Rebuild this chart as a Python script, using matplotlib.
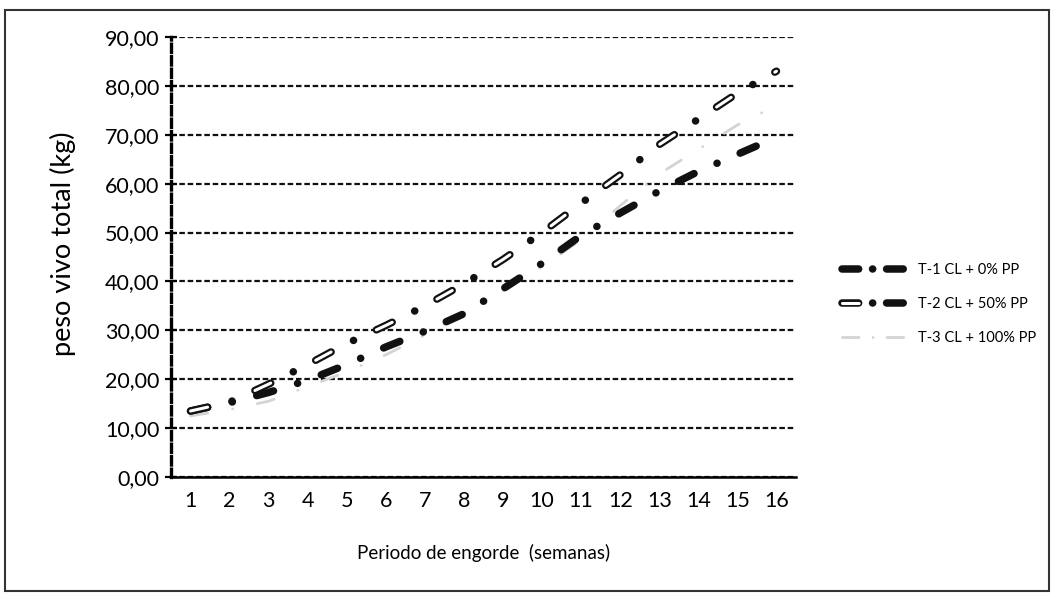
import numpy as np
import matplotlib
matplotlib.use("Agg")
import matplotlib.pyplot as plt
from matplotlib.lines import Line2D
from matplotlib.patches import Rectangle
from matplotlib.legend_handler import HandlerTuple
from matplotlib.ticker import FuncFormatter

plt.rcParams['font.family'] = ['Lato', 'DejaVu Sans']
plt.rcParams['lines.scale_dashes'] = False

# weeks of fattening and total live weight (kg) per treatment
weeks = np.arange(1, 17)
t1 = [13.5, 15.2, 17.3, 19.8, 23.0, 26.6, 29.8, 33.4, 38.5, 43.7, 49.4, 54.0, 58.5, 62.5, 66.0, 69.5]
t2 = [13.5, 15.3, 19.0, 23.0, 27.3, 31.0, 35.0, 39.5, 44.5, 50.0, 56.0, 61.8, 68.0, 73.2, 78.5, 83.0]
t3 = [12.5, 13.8, 15.5, 18.5, 21.5, 25.0, 29.0, 33.5, 38.0, 43.0, 48.5, 55.5, 62.0, 67.0, 72.0, 76.0]
labels = ['T-1 CL + 0% PP', 'T-2 CL + 50% PP', 'T-3 CL + 100% PP']

W, H = 1054, 602
fig = plt.figure(figsize=(W / 100, H / 100), dpi=100)
ax = fig.add_axes([171 / W, 1 - 477 / H, 625 / W, 440 / H])

dash_dot = (0, (12.6, 18.1, 0.1, 18.1))
dash_only = (0, (12.6, 36.3))

ax.plot(weeks, t3, color='#d4d4d4', lw=2, linestyle=dash_dot,
        dash_capstyle='round', zorder=3)
ax.plot(weeks, t1, color='#111111', lw=5.4, linestyle=dash_dot,
        dash_capstyle='round', zorder=4)
ax.plot(weeks, t2, color='#111111', lw=5.4, linestyle=dash_dot,
        dash_capstyle='round', zorder=5)
ax.plot(weeks, t2, color='white', lw=2.2, linestyle=dash_only,
        dash_capstyle='round', zorder=6)

ax.set_xlim(0.5, 16.5)
ax.set_ylim(0, 90)
ax.set_xticks(weeks)
ax.set_yticks(np.arange(0, 91, 10))
ax.yaxis.set_major_formatter(FuncFormatter(lambda v, p: f"{v:.2f}".replace('.', ',')))

ax.yaxis.grid(True, color='#111111', lw=1.6, linestyle=(0, (4, 2)))
ax.set_axisbelow(True)

for s in ['top', 'right']:
    ax.spines[s].set_visible(False)
ax.spines['left'].set_linestyle((0, (6, 3)))
ax.spines['left'].set_linewidth(2.4)
ax.spines['bottom'].set_linewidth(1.8)

ax.tick_params(axis='y', direction='inout', length=9, width=1.6, labelsize=15.5, pad=4)
ax.tick_params(axis='x', length=0, labelsize=15.5, pad=10)

ax.set_xlabel('Periodo de engorde  (semanas)', fontsize=13.5, labelpad=24)
fig.text(63 / W, 1 - 244 / H, 'peso vivo total (kg)', rotation=90,
         fontsize=19.5, ha='center', va='center')

# legend handles: dash, dot, dash like the original sample
leg_pat = (0, (12, 10, 0.1, 10, 12, 80))
h1 = Line2D([], [], color='#111111', lw=5.4, linestyle=leg_pat, dash_capstyle='round')
h2a = Line2D([], [], color='#111111', lw=5.4, linestyle=leg_pat, dash_capstyle='round')
h2b = Line2D([], [], color='white', lw=2.2, linestyle=(0, (12, 200)),
             dash_capstyle='round')
h3 = Line2D([], [], color='#d4d4d4', lw=2, linestyle=leg_pat, dash_capstyle='round')
fig.legend([h1, (h2a, h2b), h3], labels, loc='center left',
           bbox_to_anchor=(829 / W, 1 - 304 / H), frameon=False, fontsize=10.5,
           handlelength=4.7, handletextpad=0.5, labelspacing=1.35,
           handler_map={tuple: HandlerTuple(ndivide=1, pad=0)})

fig.add_artist(Rectangle((5 / W, 1 - 591 / H), 1044 / W, 581 / H,
                         transform=fig.transFigure, fill=False, lw=1.5, ec='#333333'))

fig.savefig('out.png', dpi=100)
